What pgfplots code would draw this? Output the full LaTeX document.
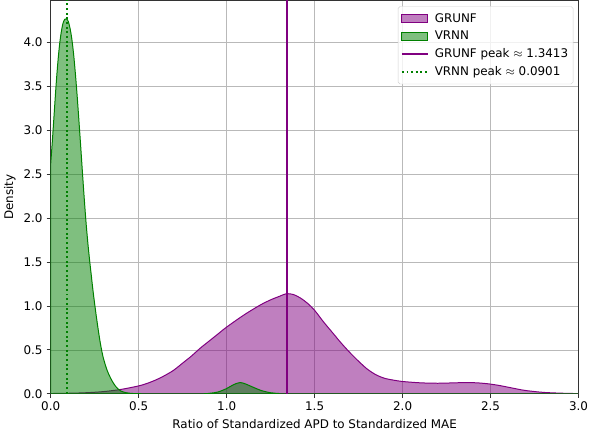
\documentclass[border=0pt]{standalone}
\usepackage{fontspec}
\setmainfont{DejaVu Sans}
\usepackage{pgfplots}
\pgfplotsset{compat=1.18}
\definecolor{mplpurple}{HTML}{800080}
\definecolor{mplgreen}{HTML}{008000}
\pgfplotsset{
    legpurple/.style={legend image code/.code={\draw[sharp corners, draw=mplpurple, fill=mplpurple, fill opacity=0.5, line width=1bp] (0bp,-4bp) rectangle (26bp,4bp);}},
    leggreen/.style={legend image code/.code={\draw[sharp corners, draw=mplgreen, fill=mplgreen, fill opacity=0.5, line width=1bp] (0bp,-4bp) rectangle (26bp,4bp);}},
    legpeakp/.style={legend image code/.code={\draw[mplpurple, line width=1.6bp] (0bp,0bp) -- (26bp,0bp);}},
    legpeakg/.style={legend image code/.code={\draw[draw=mplgreen, line width=1.9bp, dash pattern=on 1.9bp off 2.7bp] (0bp,0bp) -- (26bp,0bp);}},
}

\begin{document}
\fontsize{12}{14}\selectfont
\begin{tikzpicture}
\begin{axis}[
    scale only axis,
    width=530bp, height=395bp,
    xmin=0, xmax=3, ymin=0, ymax=4.48,
    xtick={0,0.5,...,3}, ytick={0,0.5,...,4},
    /pgf/number format/assume math mode=true,
    ticklabel style={/pgf/number format/fixed, /pgf/number format/fixed zerofill, /pgf/number format/precision=1},
    tick pos=left,
    tick align=outside,
    major tick length=4bp,
    tick style={black!80, line width=0.8bp},
    axis line style={black!80, line width=0.8bp},
    grid=major,
    grid style={gray!55, line width=0.7bp},
    xlabel={Ratio of Standardized APD to Standardized MAE},
    ylabel={Density},
    legend cell align=left,
    legend style={at={(0.99,0.985)}, anchor=north east, draw=gray!35,
        rounded corners=2pt, fill=white, fill opacity=0.8, text opacity=1,
        font=\fontsize{12}{14}\selectfont, row sep=3bp, column sep=4bp,
        inner xsep=3bp, inner ysep=5bp},
]
% GRUNF density
\addplot[draw=mplpurple, fill=mplpurple, fill opacity=0.5, line width=1bp, smooth, legpurple] coordinates {
    (0,0.003) (0.1,0.006) (0.2,0.012) (0.3,0.025) (0.4,0.05) (0.5,0.09)
    (0.55,0.12) (0.6,0.16) (0.65,0.21) (0.7,0.27) (0.75,0.35) (0.8,0.43)
    (0.85,0.52) (0.9,0.6) (0.95,0.68) (1.0,0.76) (1.1,0.9) (1.19,1.01)
    (1.25,1.07) (1.3,1.11) (1.34,1.14) (1.38,1.13) (1.42,1.09) (1.46,1.03)
    (1.5,0.95) (1.55,0.82) (1.6,0.70) (1.65,0.58) (1.7,0.47) (1.75,0.37)
    (1.8,0.28) (1.85,0.215) (1.9,0.175) (1.95,0.155) (2.0,0.14) (2.1,0.125)
    (2.2,0.12) (2.3,0.125) (2.36,0.128) (2.42,0.125) (2.48,0.115) (2.54,0.098)
    (2.6,0.075) (2.65,0.055) (2.7,0.037) (2.8,0.016) (2.9,0.007) (3.0,0.002)
} \closedcycle;
\addlegendentry{GRUNF}
% VRNN density
\addplot[draw=mplgreen, fill=mplgreen, fill opacity=0.5, line width=1bp, smooth, leggreen] coordinates {
    (0,2.62) (0.01,2.9) (0.02,3.2) (0.03,3.5) (0.04,3.76) (0.05,3.97)
    (0.06,4.12) (0.07,4.22) (0.08,4.265) (0.09,4.27) (0.1,4.24) (0.11,4.16)
    (0.12,4.04) (0.13,3.87) (0.14,3.65) (0.15,3.4) (0.16,3.12) (0.17,2.83)
    (0.18,2.53) (0.19,2.24) (0.2,1.97) (0.21,1.74) (0.22,1.54) (0.23,1.36)
    (0.24,1.18) (0.25,1.02) (0.26,0.87) (0.27,0.73) (0.28,0.6) (0.29,0.49)
    (0.3,0.4) (0.32,0.27) (0.34,0.18) (0.36,0.11) (0.38,0.06) (0.4,0.03)
    (0.43,0.012) (0.47,0.003) (0.55,0) (0.85,0) (0.9,0.005) (0.95,0.02)
    (1.0,0.06) (1.04,0.105) (1.077,0.128) (1.11,0.11) (1.15,0.075)
    (1.2,0.035) (1.25,0.012) (1.3,0.003) (1.35,0) (3.0,0)
} \closedcycle;
\addlegendentry{VRNN}
\addplot[mplpurple, line width=1.6bp, legpeakp] coordinates {(1.3413,0) (1.3413,4.48)};
\addlegendentry{GRUNF peak $\approx$ 1.3413}
\addplot[mplgreen, line width=2bp, dash pattern=on 2bp off 2.7bp, legpeakg]
    coordinates {(0.0901,0) (0.0901,4.48)};
\addlegendentry{VRNN peak $\approx$ 0.0901}
\end{axis}
\end{tikzpicture}
\end{document}
